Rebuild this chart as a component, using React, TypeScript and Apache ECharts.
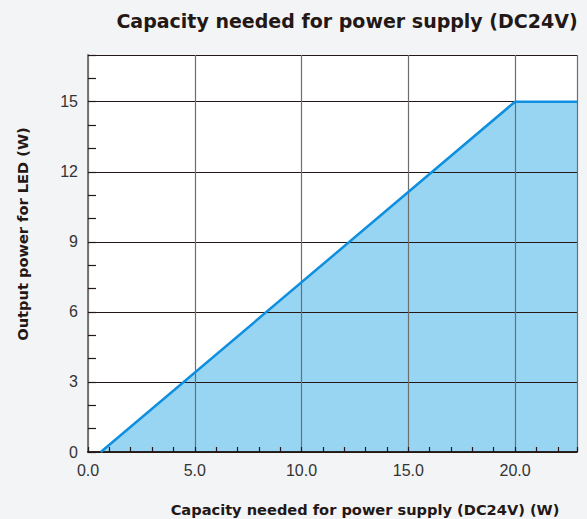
import React, { useEffect, useRef } from 'react';
import * as echarts from 'echarts';

const chartTitle = 'Capacity needed for power supply (DC24V)';
const xAxisTitle = 'Capacity needed for power supply (DC24V) (W)';
const yAxisTitle = 'Output power for LED (W)';

// Data: LED output power vs. required power-supply capacity
const capacityW = [0.6, 20, 22.9];
const outputW = [0, 15, 15];

const xMin = 0;
const xMax = 22.9;
const yMin = 0;
const yMax = 17;
const xMajor = 5;
const yMajor = 3;
const minorStep = 1;

const DARK = '#231815';
const GRID = { left: 88, top: 55, right: 10, bottom: 67 };

export default function App() {
  const ref = useRef<HTMLDivElement>(null);

  useEffect(() => {
    if (!ref.current) return;
    const chart = echarts.init(ref.current, null, { renderer: 'svg' });
    const pts = capacityW.map((x, i) => [x, outputW[i]]);
    const labelFont = { fontSize: 16, color: '#333333', fontFamily: 'Liberation Sans' };

    chart.setOption({
      animation: false,
      backgroundColor: '#f3f4f6',
      grid: [
        { ...GRID, show: true, backgroundColor: '#ffffff', borderWidth: 0, z: -2 },
        { ...GRID, show: false },
      ],
      xAxis: [
        {
          gridIndex: 0,
          type: 'value',
          position: 'bottom',
          min: xMin,
          max: xMax,
          interval: xMajor,
          axisLine: { show: true, lineStyle: { color: DARK, width: 1.5 } },
          axisTick: { show: false },
          axisLabel: {
            ...labelFont,
            margin: 10,
            showMaxLabel: false,
            formatter: (v: number) => v.toFixed(1),
          },
          splitLine: { show: true, lineStyle: { color: '#6e6e6e', width: 1.2 } },
        },
        {
          gridIndex: 0,
          type: 'value',
          position: 'top',
          min: xMin,
          max: xMax,
          axisLine: { show: true, lineStyle: { color: DARK, width: 1.5 } },
          axisTick: { show: false },
          axisLabel: { show: false },
          splitLine: { show: false },
        },
        {
          gridIndex: 1,
          type: 'value',
          position: 'bottom',
          min: xMin,
          max: xMax,
          interval: minorStep,
          axisLine: { show: false },
          axisTick: { show: true, inside: true, length: 5, lineStyle: { color: DARK, width: 1.2 } },
          axisLabel: { show: false },
          splitLine: { show: false },
        },
      ],
      yAxis: [
        {
          gridIndex: 0,
          type: 'value',
          position: 'left',
          min: yMin,
          max: yMax,
          interval: yMajor,
          axisLine: { show: true, lineStyle: { color: DARK, width: 1.5 } },
          axisTick: { show: false },
          axisLabel: { ...labelFont, margin: 10, showMaxLabel: false },
          splitLine: { show: true, lineStyle: { color: DARK, width: 1 } },
        },
        {
          gridIndex: 0,
          type: 'value',
          position: 'right',
          min: yMin,
          max: yMax,
          axisLine: { show: true, lineStyle: { color: '#8a8a8a', width: 1.5 } },
          axisTick: { show: false },
          axisLabel: { show: false },
          splitLine: { show: false },
        },
        {
          gridIndex: 1,
          type: 'value',
          position: 'left',
          min: yMin,
          max: yMax,
          interval: minorStep,
          axisLine: { show: false },
          axisTick: { show: true, inside: true, length: 8, lineStyle: { color: DARK, width: 1.2 } },
          axisLabel: { show: false },
          splitLine: { show: false },
        },
      ],
      series: [
        {
          type: 'line',
          xAxisIndex: 0,
          yAxisIndex: 0,
          data: pts,
          symbol: 'none',
          lineStyle: { width: 0, opacity: 0 },
          areaStyle: { color: '#98d5f3', opacity: 1 },
          z: -1,
          silent: true,
        },
        {
          type: 'line',
          xAxisIndex: 0,
          yAxisIndex: 0,
          data: pts,
          symbol: 'none',
          lineStyle: { width: 2.5, color: '#0e8fdf' },
          z: 3,
        },
      ],
      graphic: [
        {
          type: 'text',
          x: 347,
          y: 21,
          style: {
            text: chartTitle,
            font: 'bold 19px "DejaVu Sans"',
            fill: DARK,
            textAlign: 'center',
            textVerticalAlign: 'middle',
          },
        },
        {
          type: 'text',
          x: 365,
          y: 509,
          style: {
            text: xAxisTitle,
            font: 'bold 14.6px "DejaVu Sans"',
            fill: DARK,
            textAlign: 'center',
            textVerticalAlign: 'middle',
          },
        },
        {
          type: 'text',
          x: 22,
          y: 234,
          rotation: Math.PI / 2,
          style: {
            text: yAxisTitle,
            font: 'bold 14.6px "DejaVu Sans"',
            fill: DARK,
            textAlign: 'center',
            textVerticalAlign: 'middle',
          },
        },
      ],
    });

    return () => chart.dispose();
  }, []);

  return (
    <div
      ref={ref}
      style={{ position: 'fixed', left: 0, top: 0, width: 587, height: 519 }}
    />
  );
}
